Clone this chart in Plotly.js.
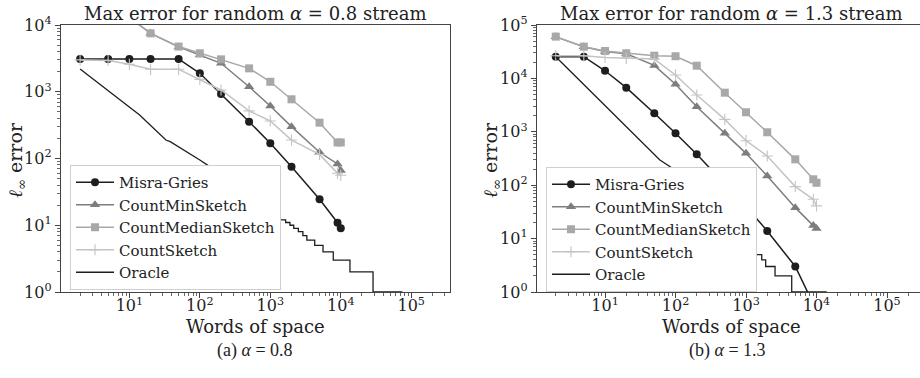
<!DOCTYPE html>
<html>
<head>
<meta charset="utf-8">
<script src="https://cdn.plot.ly/plotly-3.0.1.min.js"></script>
<style>html,body{margin:0;padding:0;background:#fff;}#chart{width:920px;height:378px;}</style>
</head>
<body>
<div id="chart"></div>
<script>
// ---------- data ----------
const seriesNames = ["Misra-Gries", "CountMinSketch", "CountMedianSketch", "CountSketch", "Oracle"];
const space = [2, 5, 10, 20, 50, 100, 200, 500, 1000, 2000, 5000, 9000, 10000];

// alpha = 0.8
const mgA   = [3100, 3100, 3100, 3100, 3100, 1890, 925, 356, 169, 75, 24.5, 10.9, 9];
const cmsA  = [30000, 20000, 13000, 7500, 4700, 3550, 2670, 1190, 612, 300, 124, 83, 66];
const cmedA = [30000, 20000, 13000, 7500, 4750, 3770, 3060, 2240, 1410, 771, 344, 174, 174];
const csA   = [3000, 2950, 2580, 2170, 2170, 1535, 1063, 517, 365, 189, 115, 60, 56];
const oracleDiagXA = [2, 5, 14, 33, 38, 100, 140, 300, 700, 1450];
const oracleDiagYA = [2200, 1050, 449, 189, 179, 95, 75, 40, 20, 12];
const oracleStepXA = [1450, 1650, 1900, 2150, 2500, 2900, 3300, 4270, 5600, 7830, 13500, 28700, 75000];
const oracleStepYA = [12, 11, 10, 9, 8, 7, 6, 5, 4, 3, 2, 1, 1];

// alpha = 1.3
const mgB   = [25500, 25500, 13900, 6700, 2220, 940, 379, 105, 40, 13.9, 3, 0.6, 0.5];
const cmsB  = [60000, 39000, 32000, 29000, 17500, 7750, 2950, 937, 395, 149, 38, 17.5, 15.5];
const cmedB = [60600, 39300, 32600, 29500, 26600, 26000, 17300, 5400, 2320, 980, 305, 129, 111];
const csB   = [26600, 26600, 24700, 23800, 23000, 11600, 4890, 1710, 682, 352, 94, 54.5, 41];
const oracleDiagXB = [2, 10, 60, 84, 300, 1000];
const oracleDiagYB = [25500, 3100, 296, 222, 44, 6];
const oracleStepXB = [1000, 1250, 1670, 1900, 2580, 4450, 14000];
const oracleStepYB = [6, 5, 4, 3, 2, 1, 1];

const xTickVals = [10, 100, 1000, 10000, 100000];
const xTickText = ["10<sup>1</sup>", "10<sup>2</sup>", "10<sup>3</sup>", "10<sup>4</sup>", "10<sup>5</sup>"];
const yTickValsA = [1, 10, 100, 1000, 10000];
const yTickTextA = ["10<sup>0</sup>", "10<sup>1</sup>", "10<sup>2</sup>", "10<sup>3</sup>", "10<sup>4</sup>"];
const yTickValsB = [1, 10, 100, 1000, 10000, 100000];
const yTickTextB = ["10<sup>0</sup>", "10<sup>1</sup>", "10<sup>2</sup>", "10<sup>3</sup>", "10<sup>4</sup>", "10<sup>5</sup>"];

// ---------- styles ----------
const W = 920, H = 378;
const SERIF = "DejaVu Serif, serif";
const colMG = "#1e1e1e", colCMS = "#7d7d7d", colCMed = "#a8a8a8", colCS = "#c4c4c4", colOr = "#1e1e1e";

function minorVals(lo, hi) {
  const v = [];
  for (let e = lo; e <= hi; e++) for (let d = 2; d <= 9; d++) v.push(d * Math.pow(10, e));
  return v;
}

function makeTraces(xa, ya, lg, mg, cms, cmed, cs, odx, ody, osx, osy) {
  return [
    {x: space, y: mg, name: seriesNames[0], type: "scatter", mode: "lines+markers", xaxis: xa, yaxis: ya, legend: lg,
     legendgroup: "mg" + lg, line: {color: colMG, width: 1.5}, marker: {symbol: "circle", size: 8, color: colMG}},
    {x: space, y: cms, name: seriesNames[1], type: "scatter", mode: "lines+markers", xaxis: xa, yaxis: ya, legend: lg,
     legendgroup: "cms" + lg, line: {color: colCMS, width: 1.5}, marker: {symbol: "triangle-up", size: 9, color: colCMS}},
    {x: space, y: cmed, name: seriesNames[2], type: "scatter", mode: "lines+markers", xaxis: xa, yaxis: ya, legend: lg,
     legendgroup: "cmed" + lg, line: {color: colCMed, width: 1.5}, marker: {symbol: "square", size: 8, color: colCMed}},
    {x: space, y: cs, name: seriesNames[3], type: "scatter", mode: "lines+markers", xaxis: xa, yaxis: ya, legend: lg,
     legendgroup: "cs" + lg, line: {color: colCS, width: 1.5},
     marker: {symbol: "cross-thin", size: 8, color: colCS, line: {color: colCS, width: 1.1}}},
    {x: odx, y: ody, name: seriesNames[4], type: "scatter", mode: "lines", xaxis: xa, yaxis: ya, legend: lg,
     legendgroup: "or" + lg, line: {color: colOr, width: 1.3}},
    {x: osx, y: osy, name: seriesNames[4], type: "scatter", mode: "lines", xaxis: xa, yaxis: ya, legend: lg,
     legendgroup: "or" + lg, showlegend: false, line: {color: colOr, width: 1.3, shape: "hv"}}
  ];
}

const traces = [].concat(
  makeTraces("x", "y", "legend", mgA, cmsA, cmedA, csA, oracleDiagXA, oracleDiagYA, oracleStepXA, oracleStepYA),
  makeTraces("x2", "y2", "legend2", mgB, cmsB, cmedB, csB, oracleDiagXB, oracleDiagYB, oracleStepXB, oracleStepYB)
);

const tickFont = {family: SERIF, size: 16, color: "#222"};
const lineCol = "#444";

function xAxis(domain, range, anchor, mirror) {
  return {type: "log", domain: domain, range: range, anchor: anchor, showgrid: false, zeroline: false,
    showline: true, linecolor: lineCol, linewidth: 1.2, mirror: mirror,
    ticks: "outside", ticklen: 5, tickwidth: 1, tickcolor: lineCol, ticklabelstandoff: -6,
    tickmode: "array", tickvals: xTickVals, ticktext: xTickText, tickfont: tickFont,
    minor: {tickmode: "array", tickvals: minorVals(0, 5), ticks: "outside", ticklen: 2.5, tickcolor: lineCol, tickwidth: 0.8, showgrid: false},
    automargin: false, fixedrange: true};
}
function yAxis(range, anchor, tv, tt, mirror, hi) {
  return {type: "log", domain: [1 - 292 / H, 1 - 25 / H], range: range, anchor: anchor, showgrid: false, zeroline: false,
    showline: true, linecolor: lineCol, linewidth: 1.2, mirror: mirror,
    ticks: "outside", ticklen: 5, tickwidth: 1, tickcolor: lineCol,
    tickmode: "array", tickvals: tv, ticktext: tt, tickfont: tickFont,
    minor: {tickmode: "array", tickvals: minorVals(0, hi), ticks: "outside", ticklen: 2.5, tickcolor: lineCol, tickwidth: 0.8, showgrid: false},
    automargin: false, fixedrange: true};
}

function ann(text, px, py, size, family, angle) {
  return {text: text, xref: "paper", yref: "paper", x: px / W, y: 1 - py / H, xanchor: "center", yanchor: "middle",
    showarrow: false, textangle: angle || 0, font: {family: family || SERIF, size: size, color: "#222"}};
}

const legendStyle = (x, y) => ({x: x / W, y: 1 - y / H, xanchor: "left", yanchor: "top", bgcolor: "#ffffff",
  bordercolor: "#cfcfcf", borderwidth: 1, font: {family: SERIF, size: 15, color: "#222"},
  tracegroupgap: 2.5, itemwidth: 38, traceorder: "normal"});

const layout = {
  width: W, height: H, margin: {l: 0, r: 0, t: 0, b: 0}, paper_bgcolor: "#fff", plot_bgcolor: "#fff",
  showlegend: true,
  xaxis: xAxis([61 / W, 450 / W], [0.03, 5.55], "y", true),
  yaxis: yAxis([0, 4], "x", yTickValsA, yTickTextA, true, 3),
  xaxis2: xAxis([537 / W, 1], [0.035, 5.468], "y2", true),
  yaxis2: yAxis([0, 5], "x2", yTickValsB, yTickTextB, false, 4),
  legend: legendStyle(70, 165),
  legend2: legendStyle(546, 167),
  annotations: [
    ann("Max error for random <i>α</i> = 0.8 stream", 255.5, 13, 18),
    ann("Max error for random <i>α</i> = 1.3 stream", 731, 13, 18),
    ann("Words of space", 255.5, 326, 18),
    ann("Words of space", 731, 326, 18),
    ann("<i>ℓ</i><sub>∞</sub> error", 16, 160, 19, SERIF, -90),
    ann("<i>ℓ</i><sub>∞</sub> error", 491, 160, 19, SERIF, -90),
    ann("(a) <i>α</i> = 0.8", 255.5, 350, 18, "Liberation Serif, serif"),
    ann("(b) <i>α</i> = 1.3", 727, 350, 18, "Liberation Serif, serif")
  ]
};

Plotly.newPlot("chart", traces, layout, {displayModeBar: false, staticPlot: true});
</script>
</body>
</html>
